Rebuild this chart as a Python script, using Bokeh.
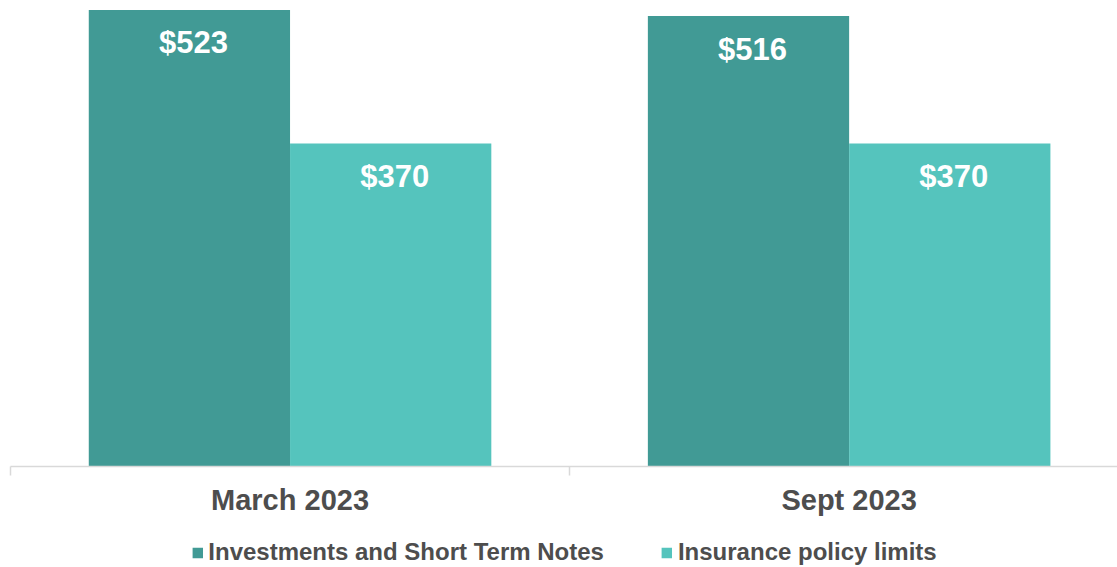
from bokeh.plotting import figure
from bokeh.layouts import column
from bokeh.models import Range1d, FixedTicker, Legend, LegendItem
from bokeh.core.properties import value
from bokeh.embed import file_html
from bokeh.resources import INLINE

periods = ["March 2023", "Sept 2023"]
series = ["Investments and Short Term Notes", "Insurance policy limits"]
investments = [523, 516]
insurance = [370, 370]
colors = ["#419A95", "#55C4BD"]

FONT = value("Liberation Sans")
centers = [i + 0.5 for i in range(len(periods))]
bar_w = 0.36

p = figure(frame_width=1107, frame_height=458, output_backend="svg", toolbar_location=None,
           x_range=Range1d(0, 1.98), y_range=Range1d(0, 524.6),
           min_border_left=10, min_border_right=0, min_border_top=8, min_border_bottom=71,
           background_fill_color="white", border_fill_color="white")
p.outline_line_color = None
p.grid.visible = False
p.yaxis.visible = False

for k, vals in enumerate([investments, insurance]):
    xs = [c + (k - 0.5) * bar_w for c in centers]
    p.vbar(x=xs, top=vals, bottom=0, width=bar_w, fill_color=colors[k], line_color=None)
    p.text(x=xs, y=vals, text=[f"${v}" for v in vals], text_align="center", text_baseline="middle",
           x_offset=4, y_offset=33, text_color="white", text_font=FONT, text_font_style="bold",
           text_font_size="31px")

ax = p.xaxis[0]
ax.ticker = FixedTicker(ticks=centers, minor_ticks=[0, 1, 2])
ax.major_label_overrides = {c: lab for c, lab in zip(centers, periods)}
ax.major_tick_line_color = None
ax.major_tick_out = 0
ax.major_tick_in = 0
ax.minor_tick_line_color = "#d9d9d9"
ax.minor_tick_line_width = 1.5
ax.minor_tick_out = 9
ax.minor_tick_in = 0
ax.axis_line_color = "#d9d9d9"
ax.axis_line_width = 1.5
ax.major_label_text_font = "Liberation Sans"
ax.major_label_text_font_style = "bold"
ax.major_label_text_font_size = "29px"
ax.major_label_text_color = "#4d4d4d"
ax.major_label_standoff = 8

# legend strip below the chart (proxy glyphs kept outside its visible range)
q = figure(width=1117, height=30, output_backend="svg", toolbar_location=None,
           x_axis_type=None, y_axis_type=None,
           x_range=Range1d(0, 1), y_range=Range1d(0, 1),
           min_border_left=10, min_border_right=0, min_border_top=0, min_border_bottom=0,
           background_fill_color="white", border_fill_color="white")
q.outline_line_color = None
q.grid.visible = False
items = []
for s, c in zip(series, colors):
    r = q.vbar(x=[-5], top=[-5], bottom=[-6], width=0.5, fill_color=c, line_color=None)
    items.append(LegendItem(label=s, renderers=[r]))
legend = Legend(items=items, orientation="horizontal", location="center",
                glyph_width=13, glyph_height=13, label_standoff=5, spacing=56,
                padding=0, margin=0, border_line_color=None, background_fill_alpha=0,
                label_text_font="Liberation Sans", label_text_font_style="bold",
                label_text_font_size="24px", label_text_color="#4d4d4d")
q.add_layout(legend, "center")

open("out.html", "w").write(file_html(column(p, q, spacing=0), INLINE))
